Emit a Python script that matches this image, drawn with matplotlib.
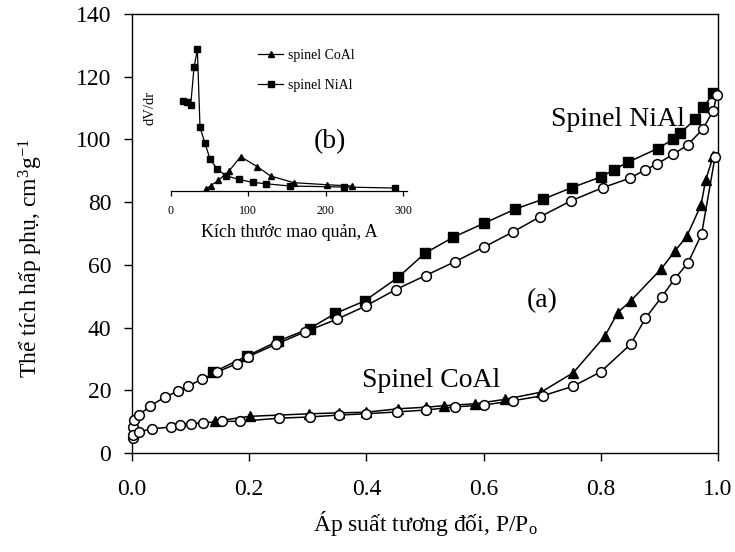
import matplotlib
matplotlib.use("Agg")
import matplotlib.pyplot as plt

plt.rcParams['font.family'] = ['Liberation Serif', 'DejaVu Serif']
plt.rcParams['mathtext.fontset'] = 'custom'
plt.rcParams['mathtext.rm'] = 'Liberation Serif'
plt.rcParams['mathtext.it'] = 'Liberation Serif:italic'
plt.rcParams['mathtext.bf'] = 'Liberation Serif:bold'

# ---- main isotherms (P/Po, volume cm3/g) ----
nial_ads_x = [0.139, 0.196, 0.249, 0.303, 0.347, 0.397, 0.454, 0.500, 0.548, 0.600, 0.654,
              0.701, 0.750, 0.801, 0.823, 0.846, 0.897, 0.924, 0.935, 0.961, 0.975, 0.992]
nial_ads_y = [25.8, 30.9, 35.7, 39.7, 44.5, 48.5, 56.0, 63.7, 68.8, 73.2, 77.8,
              80.9, 84.6, 88.1, 90.4, 92.7, 97.1, 100.1, 101.9, 106.4, 110.2, 114.7]

nial_des_x = [0.002, 0.003, 0.012, 0.031, 0.056, 0.078, 0.095, 0.119, 0.145, 0.179, 0.198,
              0.246, 0.296, 0.350, 0.399, 0.450, 0.501, 0.551, 0.600, 0.651, 0.697,
              0.749, 0.803, 0.849, 0.875, 0.896, 0.924, 0.948, 0.974, 0.992, 0.998]
nial_des_y = [8.3, 10.5, 12.1, 15.0, 17.8, 19.7, 21.3, 23.5, 25.8, 28.5, 30.7,
              34.7, 38.7, 42.7, 46.9, 52.1, 56.6, 61.0, 65.6, 70.6, 75.4,
              80.4, 84.6, 87.6, 90.2, 92.2, 95.3, 98.2, 103.3, 109.2, 114.2]

coal_ads_x = [0.141, 0.201, 0.302, 0.353, 0.399, 0.454, 0.501, 0.533, 0.586, 0.636, 0.698,
              0.753, 0.807, 0.829, 0.851, 0.903, 0.927, 0.947, 0.971, 0.979, 0.992]
coal_ads_y = [10.1, 11.7, 12.5, 12.8, 13.0, 14.1, 14.6, 15.1, 15.7, 17.1, 19.4,
              25.6, 37.3, 44.8, 48.5, 58.7, 64.5, 69.2, 79.1, 87.1, 94.7]

coal_des_x = [0.002, 0.002, 0.012, 0.034, 0.067, 0.082, 0.101, 0.121, 0.153, 0.184, 0.251,
              0.304, 0.353, 0.399, 0.452, 0.501, 0.551, 0.601, 0.651, 0.702, 0.753,
              0.800, 0.851, 0.876, 0.904, 0.926, 0.949, 0.972, 0.995]
coal_des_y = [4.7, 5.8, 6.8, 7.7, 8.3, 9.0, 9.4, 9.6, 10.1, 10.1, 11.1,
              11.5, 12.1, 12.5, 13.1, 13.7, 14.7, 15.3, 16.7, 18.3, 21.3,
              25.9, 34.7, 42.9, 49.8, 55.5, 60.7, 69.8, 94.5]

# ---- inset pore size distribution (pore size A, dV/dr arbitrary) ----
ins_coal_x = [45.5, 51.6, 61.5, 75.2, 90.2, 111.7, 128.9, 159.0, 201.1, 234.2]
ins_coal_y = [5, 15, 31, 59, 102, 72, 44, 24, 18, 14]
ins_nial_x = [16.3, 21.5, 25.8, 30.1, 34.4, 37.8, 44.3, 50.7, 60.2, 71.3, 87.7,
              105.7, 122.5, 153.8, 223.9, 289.2]
ins_nial_y = [270, 267, 257, 370, 424, 190, 142, 95, 64, 45, 34, 25, 21, 14, 11, 8]

x_ticks = [0.0, 0.2, 0.4, 0.6, 0.8, 1.0]
y_ticks = [0, 20, 40, 60, 80, 100, 120, 140]
ins_ticks = [0, 100, 200, 300]

W, H = 735, 552
fig = plt.figure(figsize=(W / 100, H / 100), dpi=100)
ax = fig.add_axes([132 / W, (H - 453) / H, 586 / W, 439 / H])

lw = 1.1
ms = 7
ax.plot(nial_ads_x, nial_ads_y, '-', color='black', lw=lw, marker='s', ms=ms,
        mfc='black', mec='black', clip_on=False, zorder=3)
ax.plot(nial_des_x, nial_des_y, '-', color='black', lw=lw, marker='o', ms=ms,
        mfc='white', mec='black', mew=1.1, clip_on=False, zorder=3)
ax.plot(coal_ads_x, coal_ads_y, '-', color='black', lw=lw, marker='^', ms=ms + 0.5,
        mfc='black', mec='black', clip_on=False, zorder=3)
ax.plot(coal_des_x, coal_des_y, '-', color='black', lw=lw, marker='o', ms=ms,
        mfc='white', mec='black', mew=1.1, clip_on=False, zorder=3)

ax.set_xlim(0, 1.0)
ax.set_ylim(0, 140)
ax.set_xticks(x_ticks)
ax.set_xticklabels([f"{v:.1f}" for v in x_ticks])
ax.set_yticks(y_ticks)
ax.set_yticklabels([str(v) for v in y_ticks])
ax.tick_params(axis='both', direction='out', length=6, width=1.0, labelsize=17,
               top=False, right=False)
ax.tick_params(axis='x', pad=13)
ax.tick_params(axis='y', pad=9)
for s in ax.spines.values():
    s.set_linewidth(1.0)

ax.text(0.829, 106.5, "Spinel NiAl", fontsize=20, ha='center', va='center')
ax.text(0.51, 23.0, "Spinel CoAl", fontsize=20, ha='center', va='center')
ax.text(0.70, 48.5, "(a)", fontsize=20, ha='center', va='center')

fig.text(425 / W, (H - 523) / H, r"Áp suất tương đối, P/P$_{\mathrm{o}}$", fontsize=17,
         ha='center', va='center')
fig.text(31 / W, (H - 258) / H, r"Thể tích hấp phụ, cm$^{3}$g$^{-1}$", fontsize=17,
         ha='center', va='center', rotation=90)

# ---- inset ----
ix0, ix1 = 170.7, 403.3
ins_w = (ix1 - ix0) * 305 / 300
ins_base = 190.7
ins_top = ins_base - 440 / 3
axi = fig.add_axes([ix0 / W, (H - ins_base) / H, ins_w / W, (ins_base - ins_top) / H])
axi.patch.set_alpha(0)
l1, = axi.plot(ins_coal_x, ins_coal_y, '-', color='black', lw=0.9, marker='^', ms=5,
               mfc='black', mec='black', label='spinel CoAl')
l2, = axi.plot(ins_nial_x, ins_nial_y, '-', color='black', lw=0.9, marker='s', ms=4.5,
               mfc='black', mec='black', label='spinel NiAl')
axi.set_xlim(0, 305)
axi.set_ylim(0, 440)
axi.set_xticks(ins_ticks)
axi.set_xticklabels([str(v) for v in ins_ticks])
axi.set_yticks([])
for k in ['left', 'top', 'right']:
    axi.spines[k].set_visible(False)
axi.spines['bottom'].set_linewidth(0.9)
axi.tick_params(axis='x', direction='out', length=3.5, width=0.9, labelsize=8.5, pad=7)
axi.set_xlabel("Kích thước mao quản, A", fontsize=13, labelpad=5)
fig.text(150 / W, (H - 108) / H, "dV/dr", fontsize=10.5, rotation=90,
         ha='center', va='center')
fig.text(330 / W, (H - 142) / H, "(b)", fontsize=20, ha='center', va='center')
fig.legend(handles=[l1, l2], loc='upper left', bbox_to_anchor=(258 / W, (H - 49) / H),
           frameon=False, fontsize=10, handlelength=1.8, handletextpad=0.35,
           labelspacing=1.25, borderpad=0, borderaxespad=0, markerscale=0.9)

fig.savefig("out.png", dpi=100)
